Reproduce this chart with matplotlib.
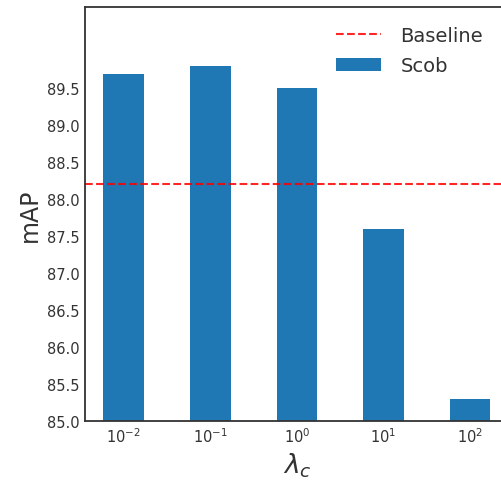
import matplotlib.pyplot as plt

plt.style.use('seaborn-v0_8-white')
plt.rcParams['font.family'] = ['DejaVu Sans']

labels = [r'$10^{-2}$', r'$10^{-1}$', r'$10^{0}$', r'$10^{1}$', r'$10^{2}$']
scob = [89.7, 89.8, 89.5, 87.6, 85.3]
baseline = 88.2
yticks = [85.0, 85.5, 86.0, 86.5, 87.0, 87.5, 88.0, 88.5, 89.0, 89.5]

fig = plt.figure(figsize=(5.02, 4.81), dpi=100)
ax = fig.add_axes([0.169, 0.1227, 0.845, 0.8606])

x = range(len(labels))
ax.axhline(baseline, color='red', linestyle='--', linewidth=1.5, alpha=0.85, label='Baseline')
ax.bar(x, scob, width=0.47, color='#1f77b4', label='Scob')

ax.set_xticks(list(x))
ax.set_xticklabels(labels, fontsize=10.5, color='#333333')
ax.set_yticks(yticks)
ax.set_yticklabels([f'{v:.1f}' for v in yticks], fontsize=10.5, color='#333333')
ax.set_xlim(-0.45, 4.45)
ax.set_ylim(85.0, 90.6)

ax.set_ylabel('mAP', fontsize=17, color='#333333')
ax.set_xlabel(r'$\lambda_c$', fontsize=19, color='#333333')

for s in ax.spines.values():
    s.set_color('#333333')
    s.set_linewidth(1.3)

leg = ax.legend(loc='upper right', bbox_to_anchor=(0.98, 0.997), fontsize=14, frameon=False,
                handlelength=2.3, handletextpad=1.0, labelspacing=0.6)
for t in leg.get_texts():
    t.set_color('#333333')

fig.savefig('out.png', dpi=100)
